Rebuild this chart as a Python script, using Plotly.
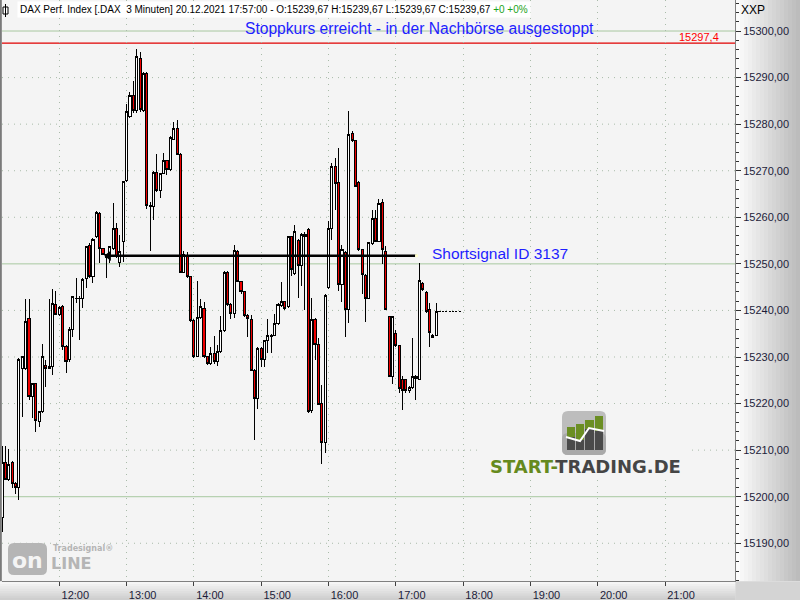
import plotly.graph_objects as go
import pandas as pd

# ---------------- data ----------------
session_start = "2021-12-20 11:09"
bar_minutes = 3

opens = [15195.6, 15207.4, 15203.7, 15207.4, 15202.9, 15202.0, 15227.6, 15227.6, 15238.2, 15221.5,
         15224.3, 15216.1, 15218.3, 15228.1, 15227.6, 15227.9, 15241.2, 15239.2, 15240.9, 15232.2,
         15229.4, 15236.0, 15242.5, 15242.6, 15242.5, 15246.9, 15253.9, 15247.3, 15255.8, 15260.9,
         15253.3, 15252.0, 15251.9, 15253.3, 15257.6, 15250.3, 15254.8, 15268.0, 15281.6, 15286.1,
         15282.9, 15294.1, 15282.9, 15290.9, 15262.5, 15262.3, 15269.7, 15265.7, 15269.4, 15272.1,
         15270.3, 15276.8, 15279.1, 15273.5, 15248.2, 15251.7, 15247.3, 15237.9, 15230.1, 15238.5,
         15240.5, 15230.1, 15228.6, 15230.8, 15229.0, 15231.1, 15235.6, 15248.1, 15241.2, 15239.4,
         15252.6, 15246.2, 15244.0, 15239.0, 15238.1, 15227.2, 15221.0, 15231.9, 15229.4, 15233.5,
         15234.7, 15234.7, 15237.1, 15241.0, 15241.9, 15240.8, 15255.8, 15248.0, 15255.1, 15249.6,
         15256.2, 15257.3, 15218.6, 15238.1, 15232.7, 15220.1, 15211.7, 15245.0, 15257.6, 15270.9,
         15267.5, 15245.5, 15252.5, 15240.2, 15278.0, 15276.4, 15267.5, 15253.0, 15247.6, 15242.6,
         15254.3, 15259.8, 15254.8, 15263.1, 15252.6, 15238.7, 15225.9, 15235.1, 15232.4, 15225.1,
         15225.1, 15222.9, 15223.5, 15225.9, 15225.2, 15245.8, 15243.8, 15240.1, 15234.2, 15234.7,
         15239.67, 15239.67, 15239.67, 15239.67, 15239.67, 15239.67, 15239.67]
highs = [15210.9, 15210.9, 15210.2, 15207.7, 15203.2, 15229.8, 15230.3, 15242.5, 15242.4, 15224.5,
         15224.5, 15218.5, 15232.8, 15229.4, 15242.5, 15244.6, 15244.2, 15240.9, 15241.2, 15232.5,
         15236.4, 15243.1, 15246.9, 15243.0, 15246.9, 15253.9, 15254.5, 15255.6, 15261.4, 15261.2,
         15253.5, 15252.2, 15253.9, 15263.0, 15258.7, 15256.2, 15267.9, 15284.3, 15286.8, 15289.3,
         15296.1, 15295.4, 15291.2, 15291.1, 15263.2, 15270.0, 15273.6, 15269.6, 15273.7, 15272.3,
         15277.4, 15280.5, 15280.8, 15273.7, 15252.8, 15252.6, 15247.5, 15238.1, 15246.3, 15242.5,
         15241.9, 15230.3, 15232.2, 15234.5, 15232.6, 15238.8, 15248.5, 15248.4, 15241.5, 15254.1,
         15253.0, 15246.4, 15244.2, 15239.2, 15239.0, 15227.4, 15232.1, 15232.1, 15233.7, 15238.2,
         15235.0, 15239.2, 15241.5, 15246.0, 15242.1, 15256.0, 15256.0, 15258.3, 15255.3, 15256.6,
         15256.8, 15257.6, 15242.6, 15238.3, 15234.0, 15224.0, 15243.5, 15259.3, 15271.7, 15272.7,
         15274.9, 15254.1, 15252.7, 15282.8, 15278.5, 15276.6, 15267.9, 15253.2, 15247.8, 15254.8,
         15261.6, 15261.6, 15263.9, 15263.9, 15253.9, 15238.9, 15238.8, 15235.8, 15232.6, 15225.9,
         15225.3, 15223.7, 15234.0, 15226.1, 15250.1, 15246.2, 15244.2, 15241.5, 15234.9, 15241.6,
         15239.67, 15239.67, 15239.67, 15239.67, 15239.67, 15239.67, 15239.67]
lows = [15192.4, 15203.5, 15203.4, 15201.8, 15200.6, 15199.4, 15217.2, 15227.3, 15220.8, 15216.8,
        15214.0, 15215.0, 15218.0, 15223.6, 15227.4, 15226.1, 15239.0, 15238.9, 15231.5, 15226.5,
        15229.0, 15234.4, 15241.5, 15233.6, 15240.5, 15244.8, 15247.0, 15245.8, 15255.5, 15250.1,
        15251.8, 15246.9, 15250.1, 15253.0, 15251.2, 15249.4, 15250.5, 15267.5, 15281.3, 15282.5,
        15282.5, 15282.7, 15282.6, 15261.8, 15252.8, 15259.4, 15265.5, 15264.1, 15269.2, 15269.1,
        15270.0, 15276.5, 15273.3, 15248.0, 15248.0, 15246.9, 15237.5, 15229.7, 15229.9, 15238.2,
        15229.8, 15228.3, 15228.2, 15228.5, 15228.1, 15230.8, 15235.3, 15241.0, 15238.2, 15238.3,
        15246.0, 15243.5, 15238.6, 15234.4, 15227.0, 15212.2, 15218.8, 15227.9, 15227.9, 15230.8,
        15230.8, 15234.5, 15236.9, 15240.7, 15240.0, 15240.5, 15247.3, 15247.7, 15242.6, 15245.3,
        15240.1, 15218.0, 15217.9, 15229.4, 15219.6, 15207.0, 15209.3, 15244.7, 15255.1, 15261.6,
        15244.2, 15241.9, 15234.4, 15237.4, 15276.2, 15266.5, 15252.8, 15243.5, 15237.6, 15242.4,
        15254.1, 15254.6, 15254.6, 15250.0, 15240.0, 15225.7, 15224.3, 15232.1, 15222.2, 15218.6,
        15222.3, 15222.2, 15223.1, 15220.8, 15225.0, 15244.2, 15239.5, 15232.2, 15234.0, 15234.5,
        15239.67, 15239.67, 15239.67, 15239.67, 15239.67, 15239.67, 15239.67]
closes = [15207.4, 15203.7, 15207.0, 15202.9, 15202.0, 15229.4, 15230.1, 15237.7, 15221.5, 15224.3,
          15216.3, 15218.3, 15230.2, 15227.6, 15227.9, 15241.5, 15239.2, 15240.6, 15232.2, 15229.1,
          15236.0, 15242.9, 15242.6, 15242.5, 15246.7, 15253.7, 15247.3, 15255.3, 15261.1, 15253.3,
          15252.0, 15251.4, 15253.7, 15257.6, 15251.5, 15252.6, 15267.7, 15282.7, 15286.1, 15282.9,
          15294.5, 15283.2, 15290.9, 15262.5, 15262.3, 15269.7, 15265.7, 15269.4, 15272.1, 15270.2,
          15277.2, 15279.1, 15273.5, 15248.2, 15252.0, 15247.3, 15237.9, 15230.1, 15238.5, 15240.8,
          15230.1, 15228.6, 15230.8, 15229.0, 15231.1, 15235.6, 15248.1, 15241.3, 15239.4, 15252.8,
          15246.2, 15244.0, 15239.0, 15238.3, 15227.2, 15221.0, 15231.9, 15229.4, 15233.5, 15234.7,
          15234.5, 15237.1, 15241.2, 15241.9, 15240.5, 15255.8, 15248.7, 15256.9, 15249.6, 15256.2,
          15255.8, 15218.3, 15238.1, 15232.6, 15219.9, 15211.7, 15243.3, 15257.5, 15271.0, 15267.3,
          15245.6, 15253.0, 15240.2, 15277.8, 15276.4, 15266.7, 15253.0, 15247.8, 15242.6, 15254.6,
          15259.8, 15254.8, 15262.9, 15253.0, 15240.2, 15225.9, 15238.6, 15232.4, 15223.3, 15222.9,
          15222.9, 15223.5, 15225.9, 15225.4, 15246.5, 15244.4, 15239.7, 15235.3, 15234.7, 15239.67,
          15239.67, 15239.67, 15239.67, 15239.67, 15239.67, 15239.67, 15239.67]

times = pd.date_range(session_start, periods=len(opens), freq=f"{bar_minutes}min")

hour_ticks = ["2021-12-20 12:00", "2021-12-20 13:00", "2021-12-20 14:00", "2021-12-20 15:00",
              "2021-12-20 16:00", "2021-12-20 17:00", "2021-12-20 18:00", "2021-12-20 19:00",
              "2021-12-20 20:00", "2021-12-20 21:00"]
hour_labels = ["12:00", "13:00", "14:00", "15:00", "16:00", "17:00", "18:00", "19:00",
               "20:00", "21:00"]
price_ticks = [15190, 15200, 15210, 15220, 15230, 15240, 15250, 15260, 15270, 15280, 15290, 15300]
price_tick_labels = ["15190,00", "15200,00", "15210,00", "15220,00", "15230,00", "15240,00",
                     "15250,00", "15260,00", "15270,00", "15280,00", "15290,00", "15300,00"]
zone_levels = [15200, 15250, 15300]

stop_price = 15297.4
stop_label = "15297,4"
signal_price = 15251.75
signal_start = "2021-12-20 12:44"
signal_end = "2021-12-20 17:18:30"
signal_text = "Shortsignal ID 3137"
stop_text = "Stoppkurs erreicht - in der Nachbörse ausgestoppt"
header_text = ("DAX Perf. Index [.DAX\u00a0\u00a03 Minuten] 20.12.2021 17:57:00 - O:15239,67 "
               "H:15239,67 L:15239,67 C:15239,67 <span style='color:#1aa31a'>+0 +0%</span>")

x_range = ["2021-12-20 11:08:55", "2021-12-20 22:02:24"]
y_range = [15181.9, 15306.66]

# ---------------- geometry helpers (decoration only) ----------------
W, H = 800, 600
ML, MR, MT, MB = 2, 65, 0, 19
PW, PH = W - ML - MR, H - MT - MB


def PX(px):
    return (px - ML) / PW


def PY(py):
    return (H - MB - py) / PH


FONT = "Liberation Sans, Arial, sans-serif"
GRID = "#a9bba9"

fig = go.Figure()

fig.add_trace(go.Candlestick(
    x=times, open=opens, high=highs, low=lows, close=closes,
    increasing=dict(line=dict(color="black", width=1), fillcolor="white"),
    decreasing=dict(line=dict(color="black", width=1), fillcolor="#ee0000"),
    whiskerwidth=0, hoverinfo="skip", showlegend=False,
))

fig.add_trace(go.Scatter(
    x=[signal_start, signal_end], y=[signal_price, signal_price], mode="lines",
    line=dict(color="black", width=2.5), hoverinfo="skip", showlegend=False))
fig.add_trace(go.Scatter(
    x=[signal_start], y=[signal_price], mode="markers",
    marker=dict(symbol="triangle-left", size=9, color="black"),
    hoverinfo="skip", showlegend=False))
fig.add_trace(go.Scatter(
    x=[signal_end], y=[signal_price], mode="markers",
    marker=dict(symbol="square", size=3, color="#ffffd0"),
    hoverinfo="skip", showlegend=False))

shapes = []
# dotted horizontal grid
for p in price_ticks:
    if p in zone_levels:
        continue
    shapes.append(dict(type="line", xref="paper", yref="y", x0=0, x1=1, y0=p, y1=p,
                       line=dict(color=GRID, width=1, dash="1px,5px"), layer="below"))
for p in zone_levels:
    shapes.append(dict(type="line", xref="paper", yref="y", x0=0, x1=1, y0=p, y1=p,
                       line=dict(color="#a8c8a0", width=1), layer="below"))
shapes.append(dict(type="line", xref="paper", yref="y", x0=0, x1=1, y0=stop_price, y1=stop_price,
                   line=dict(color="#e00000", width=1.2), layer="below"))

# right axis gradient
N = 16
for i in range(N):
    c = int(252 - (252 - 188) * i / (N - 1))
    shapes.append(dict(type="rect", xref="paper", yref="paper",
                       x0=PX(736 + i * 64 / N), x1=PX(736 + (i + 1) * 64 / N + 0.5),
                       y0=PY(581), y1=PY(0), fillcolor=f"rgb({c},{c},{c})",
                       line=dict(width=0), layer="below"))
# bottom axis gradient
N2 = 8
for j in range(N2):
    c = int(246 - (246 - 206) * j / (N2 - 1))
    shapes.append(dict(type="rect", xref="paper", yref="paper",
                       x0=PX(0), x1=PX(735.5),
                       y0=PY(582 + (j + 1) * 18 / N2 + 0.3), y1=PY(582 + j * 18 / N2),
                       fillcolor=f"rgb({c},{c},{c})", line=dict(width=0), layer="below"))
shapes.append(dict(type="rect", xref="paper", yref="paper", x0=PX(735.5), x1=PX(800),
                   y0=PY(600), y1=PY(581.5), fillcolor="#d4d4d4", line=dict(width=0), layer="below"))
# left border
shapes.append(dict(type="line", xref="paper", yref="paper", x0=PX(0.8), x1=PX(0.8),
                   y0=PY(581), y1=PY(0), line=dict(color="#7a7a7a", width=2)))

# START-TRADING logo backdrop & icon
shapes.append(dict(type="rect", xref="paper", yref="paper", x0=PX(480), x1=PX(690),
                   y0=PY(480), y1=PY(404), fillcolor="#f4f4f4", line=dict(width=0), layer="above"))


def rrect(x0, y0, x1, y1, r):
    X0, X1, Y0, Y1 = PX(x0), PX(x1), PY(y1), PY(y0)
    rx, ry = r / PW, r / PH
    return (f"M{X0 + rx},{Y1} L{X1 - rx},{Y1} Q{X1},{Y1} {X1},{Y1 - ry} L{X1},{Y0 + ry} "
            f"Q{X1},{Y0} {X1 - rx},{Y0} L{X0 + rx},{Y0} Q{X0},{Y0} {X0},{Y0 + ry} "
            f"L{X0},{Y1 - ry} Q{X0},{Y1} {X0 + rx},{Y1} Z")


shapes.append(dict(type="path", xref="paper", yref="paper", path=rrect(562, 411, 606, 455, 6),
                   fillcolor="#bdbdbd", line=dict(width=0), layer="above"))
shapes.append(dict(type="path", xref="paper", yref="paper", path=rrect(562, 433, 606, 455, 6),
                   fillcolor="#a9a9a9", line=dict(width=0), layer="above"))
bars = [(567, 575, 427, 437), (576, 584, 424, 440), (585, 594, 420, 429), (595, 603, 416, 431)]
for x0, x1, top, mid in bars:
    shapes.append(dict(type="rect", xref="paper", yref="paper", x0=PX(x0), x1=PX(x1),
                       y0=PY(mid), y1=PY(top), fillcolor="#6b8e23", line=dict(width=0), layer="above"))
    shapes.append(dict(type="rect", xref="paper", yref="paper", x0=PX(x0), x1=PX(x1),
                       y0=PY(450), y1=PY(mid), fillcolor="#4a4a4a", line=dict(width=0), layer="above"))
zig = [(566, 437), (580, 441), (589, 428), (604, 431)]
zpath = "M" + " L".join(f"{PX(a)},{PY(b)}" for a, b in zig)
shapes.append(dict(type="path", xref="paper", yref="paper", path=zpath,
                   line=dict(color="white", width=2), layer="above"))

# Tradesignal online watermark
shapes.append(dict(type="path", xref="paper", yref="paper", path=rrect(8, 543, 47, 575, 6),
                   fillcolor="#b5b5b5", line=dict(width=0), layer="below"))

# header icon
shapes.append(dict(type="rect", xref="paper", yref="paper", x0=PX(3), x1=PX(8),
                   y0=PY(14), y1=PY(7), fillcolor="white", line=dict(color="black", width=1)))
shapes.append(dict(type="line", xref="paper", yref="paper", x0=PX(5.5), x1=PX(5.5),
                   y0=PY(17), y1=PY(4), line=dict(color="black", width=1)))

annotations = [
    dict(x=PX(17), y=PY(10), xref="paper", yref="paper", text=header_text, showarrow=False,
         xanchor="left", yanchor="middle", font=dict(family=FONT, size=10, color="black"),
         bgcolor="white", borderpad=2),
    dict(x=PX(419), y=PY(28), xref="paper", yref="paper", text=stop_text, showarrow=False,
         xanchor="center", yanchor="middle", font=dict(family=FONT, size=15.6, color="#1e1eff")),
    dict(x=PX(430), y=PY(253), xref="paper", yref="paper", text=signal_text, showarrow=False,
         xanchor="left", yanchor="middle", font=dict(family=FONT, size=15.5, color="#1e1eff")),
    dict(x=PX(721), y=PY(37), xref="paper", yref="paper", text=stop_label, showarrow=False,
         xanchor="right", yanchor="middle", font=dict(family=FONT, size=11, color="#ff0000")),
    dict(x=PX(739), y=PY(10), xref="paper", yref="paper", text="XXP", showarrow=False,
         xanchor="left", yanchor="middle", font=dict(family=FONT, size=12, color="black")),
    dict(x=PX(585), y=PY(466), xref="paper", yref="paper",
         text="<b><span style='color:#668a1e'>START-</span>TRADING.DE</b>", showarrow=False,
         xanchor="center", yanchor="middle",
         font=dict(family="DejaVu Sans, sans-serif", size=18, color="#454545")),
    dict(x=PX(27.5), y=PY(560), xref="paper", yref="paper", text="<b>on</b>", showarrow=False,
         xanchor="center", yanchor="middle",
         font=dict(family="DejaVu Sans, sans-serif", size=22, color="#f4f4f4")),
    dict(x=PX(49), y=PY(563), xref="paper", yref="paper", text="<b>LINE</b>", showarrow=False,
         xanchor="left", yanchor="middle",
         font=dict(family="DejaVu Sans, sans-serif", size=16, color="#b5b5b5")),
    dict(x=PX(51), y=PY(548), xref="paper", yref="paper", text="<b>Tradesignal®</b>", showarrow=False,
         xanchor="left", yanchor="middle",
         font=dict(family="DejaVu Sans, sans-serif", size=8, color="#b5b5b5")),
]

fig.update_layout(
    width=W, height=H, margin=dict(l=ML, r=MR, t=MT, b=MB, pad=0),
    plot_bgcolor="#f4f4f4", paper_bgcolor="#e4e4e4",
    shapes=shapes, annotations=annotations, showlegend=False, hovermode=False,
    boxgap=0.1,
    xaxis=dict(type="date", range=x_range, rangeslider=dict(visible=False),
               tickmode="array", tickvals=hour_ticks, ticktext=hour_labels,
               ticks="outside", ticklen=4, tickcolor="#404040", ticklabelshift=16,
               tickfont=dict(family=FONT, size=11, color="#1c1c3a"),
               showgrid=True, gridcolor=GRID, griddash="1px,5px", gridwidth=1,
               showline=True, linecolor="#808080", linewidth=1, zeroline=False),
    yaxis=dict(side="right", range=y_range, tickmode="array", tickvals=price_ticks,
               ticktext=price_tick_labels, ticks="outside", ticklen=5, tickcolor="#303030",
               tickfont=dict(family=FONT, size=11, color="#1c1c3a"),
               minor=dict(tick0=15180, dtick=2, ticks="outside", ticklen=3, tickcolor="#303030",
                          showgrid=False),
               showgrid=False, showline=True, linecolor="#808080", linewidth=1, zeroline=False),
)

post = ("document.body.style.margin='0';document.body.style.overflow='hidden';"
        "document.querySelectorAll('.trace.boxes path').forEach(function(p){"
        "p.style.shapeRendering='crispEdges';});")
fig.write_html("out.html", config={"displayModeBar": False, "staticPlot": True}, post_script=post)
